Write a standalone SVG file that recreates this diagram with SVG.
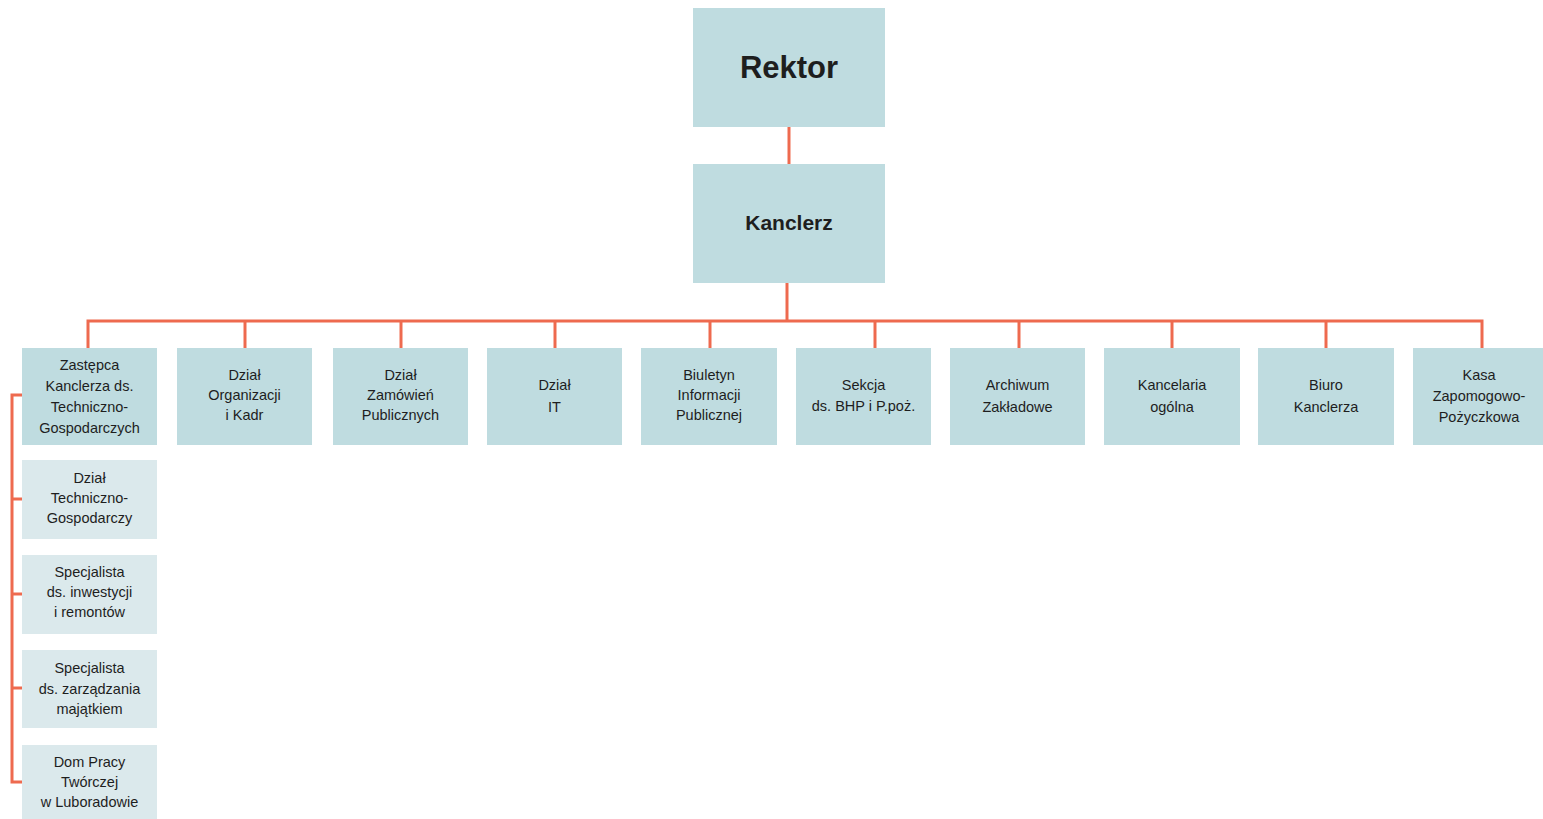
<svg xmlns="http://www.w3.org/2000/svg" width="1543" height="819" viewBox="0 0 1543 819">
<style>
.top{fill:#bfdce0}
.sub{fill:#dbe9ec}
.c{stroke:#ee6a4f;stroke-width:3;fill:none}
text{font-family:"Liberation Sans",Arial,sans-serif;fill:#1e1e1e;text-anchor:middle}
.t{font-size:14.5px}
.b{font-weight:bold}
</style>
<rect width="1543" height="819" fill="#fff"/>
<g id="connectors" class="c">
<line x1="789" y1="127" x2="789" y2="164"/>
<line x1="787" y1="283" x2="787" y2="321"/>
<polyline points="88,348 88,321 1482,321 1482,348"/>
<line x1="245" y1="321" x2="245" y2="348"/>
<line x1="401" y1="321" x2="401" y2="348"/>
<line x1="555" y1="321" x2="555" y2="348"/>
<line x1="710" y1="321" x2="710" y2="348"/>
<line x1="875" y1="321" x2="875" y2="348"/>
<line x1="1019" y1="321" x2="1019" y2="348"/>
<line x1="1172" y1="321" x2="1172" y2="348"/>
<line x1="1326" y1="321" x2="1326" y2="348"/>
<polyline points="22,395 12,395 12,782 22,782"/>
<line x1="12" y1="499" x2="22" y2="499"/>
<line x1="12" y1="594" x2="22" y2="594"/>
<line x1="12" y1="688" x2="22" y2="688"/>
</g>
<g id="rektor"><rect class="top" x="693" y="8" width="192" height="119"/><text class="b" x="789" y="78" font-size="31">Rektor</text></g>
<g id="kanclerz"><rect class="top" x="693" y="164" width="192" height="119"/><text class="b" x="789" y="230" font-size="21">Kanclerz</text></g>
<g id="zastepca"><rect class="top" x="22" y="348" width="135" height="97"/><text class="t" x="89.5" y="370">Zastępca</text><text class="t" x="89.5" y="391">Kanclerza ds.</text><text class="t" x="89.5" y="412">Techniczno-</text><text class="t" x="89.5" y="433">Gospodarczych</text></g>
<g id="organizacji"><rect class="top" x="177" y="348" width="135" height="97"/><text class="t" x="244.5" y="380">Dział</text><text class="t" x="244.5" y="400">Organizacji</text><text class="t" x="244.5" y="420">i Kadr</text></g>
<g id="zamowien"><rect class="top" x="333" y="348" width="135" height="97"/><text class="t" x="400.5" y="380">Dział</text><text class="t" x="400.5" y="400">Zamówień</text><text class="t" x="400.5" y="420">Publicznych</text></g>
<g id="it"><rect class="top" x="487" y="348" width="135" height="97"/><text class="t" x="554.5" y="390">Dział</text><text class="t" x="554.5" y="412">IT</text></g>
<g id="biuletyn"><rect class="top" x="641" y="348" width="136" height="97"/><text class="t" x="709" y="380">Biuletyn</text><text class="t" x="709" y="400">Informacji</text><text class="t" x="709" y="420">Publicznej</text></g>
<g id="bhp"><rect class="top" x="796" y="348" width="135" height="97"/><text class="t" x="863.5" y="390">Sekcja</text><text class="t" x="863.5" y="411">ds. BHP i P.poż.</text></g>
<g id="archiwum"><rect class="top" x="950" y="348" width="135" height="97"/><text class="t" x="1017.5" y="390">Archiwum</text><text class="t" x="1017.5" y="412">Zakładowe</text></g>
<g id="kancelaria"><rect class="top" x="1104" y="348" width="136" height="97"/><text class="t" x="1172" y="390">Kancelaria</text><text class="t" x="1172" y="412">ogólna</text></g>
<g id="biuro"><rect class="top" x="1258" y="348" width="136" height="97"/><text class="t" x="1326" y="390">Biuro</text><text class="t" x="1326" y="412">Kanclerza</text></g>
<g id="kasa"><rect class="top" x="1413" y="348" width="135" height="97"/><text class="t" x="1479" y="380">Kasa</text><text class="t" x="1479" y="401">Zapomogowo-</text><text class="t" x="1479" y="422">Pożyczkowa</text></g>
<g id="dzial-tg"><rect class="sub" x="22" y="460" width="135" height="79"/><text class="t" x="89.5" y="483">Dział</text><text class="t" x="89.5" y="503">Techniczno-</text><text class="t" x="89.5" y="523">Gospodarczy</text></g>
<g id="spec-inw"><rect class="sub" x="22" y="555" width="135" height="79"/><text class="t" x="89.5" y="577">Specjalista</text><text class="t" x="89.5" y="597">ds. inwestycji</text><text class="t" x="89.5" y="617">i remontów</text></g>
<g id="spec-maj"><rect class="sub" x="22" y="650" width="135" height="78"/><text class="t" x="89.5" y="673">Specjalista</text><text class="t" x="89.5" y="694">ds. zarządzania</text><text class="t" x="89.5" y="714">majątkiem</text></g>
<g id="dom"><rect class="sub" x="22" y="745" width="135" height="80"/><text class="t" x="89.5" y="767">Dom Pracy</text><text class="t" x="89.5" y="787">Twórczej</text><text class="t" x="89.5" y="807">w Luboradowie</text></g>
</svg>
